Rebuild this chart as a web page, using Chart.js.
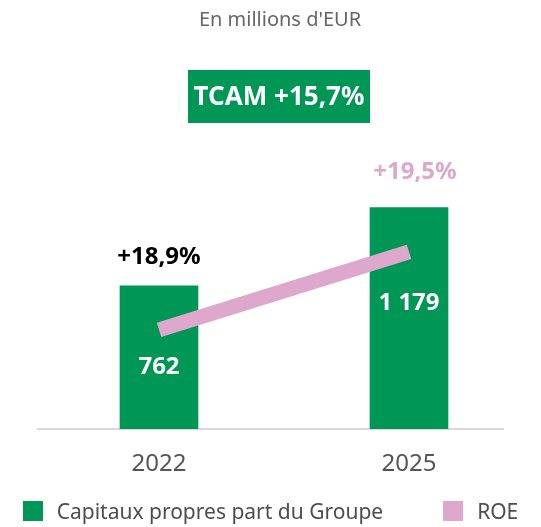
<!DOCTYPE html>
<html>
<head>
<meta charset="utf-8">
<script src="https://cdn.jsdelivr.net/npm/chart.js@4.4.1/dist/chart.umd.min.js"></script>
<style>
  html, body { margin: 0; padding: 0; background: #fff; }
  #wrap { position: relative; width: 541px; height: 527px; }
  .legend { position: absolute; left: 0; top: 491px; width: 541px; height: 40px; display: flex; justify-content: center; align-items: center; font-family: "Noto Sans", sans-serif; font-size: 21px; color: #4d4d4d; }
  .legend span.box { display: inline-block; width: 20px; height: 20px; margin-right: 14px; }
  .legend .item { display: flex; align-items: center; }
  .legend .item + .item { margin-left: 60px; }
</style>
</head>
<body>
<div id="wrap">
  <canvas id="chart"></canvas>
  <div class="legend" id="legend"></div>
</div>
<script>
const years = [2022, 2025];
const capitaux = [762, 1179];
const roe = [18.9, 19.5];
const subtitle = "En millions d'EUR";
const cagr = "TCAM +15,7%";

const green = "#009655";
const pink = "#DDA8CB";
const font = "'Noto Sans', sans-serif";

function fmtNum(v) {
  return String(v).replace(/\B(?=(\d{3})+(?!\d))/g, " ");
}
function fmtPct(v) {
  return "+" + v.toFixed(1).replace(".", ",") + "%";
}

// labels on bars, ROE values, heading and the TCAM box
const labelsPlugin = {
  id: "labels",
  afterDatasetsDraw(chart) {
    const ctx = chart.ctx;
    const bars = chart.getDatasetMeta(1).data;
    ctx.save();
    ctx.textAlign = "center";
    ctx.textBaseline = "middle";

    // values inside the bars
    ctx.font = "bold 24px " + font;
    ctx.fillStyle = "#fff";
    const inside = [0.57, 0.43];
    bars.forEach((b, i) => {
      ctx.fillText(fmtNum(capitaux[i]), b.x, b.y + (b.base - b.y) * inside[i]);
    });

    // ROE labels above the bars
    const roeColors = ["#000", pink];
    const dx = [0, 6];
    const dy = [29, 35];
    bars.forEach((b, i) => {
      ctx.fillStyle = roeColors[i];
      ctx.fillText(fmtPct(roe[i]), b.x + dx[i], b.y - dy[i]);
    });

    // heading
    ctx.fillStyle = "#666";
    ctx.font = "20px " + font;
    ctx.fillText(subtitle, 280, 20);

    // TCAM box
    ctx.fillStyle = green;
    ctx.fillRect(188, 70, 182, 53);
    ctx.fillStyle = "#fff";
    ctx.font = "bold 26px " + font;
    ctx.fillText(cagr, 279, 98);
    ctx.restore();
  }
};

new Chart(document.getElementById("chart"), {
  type: "bar",
  data: {
    datasets: [
      {
        type: "line",
        label: "ROE",
        data: years.map((y, i) => ({ x: y, y: roe[i] })),
        yAxisID: "y2",
        borderColor: pink,
        backgroundColor: pink,
        borderWidth: 15,
        borderCapStyle: "butt",
        pointRadius: 0,
        tension: 0,
        order: 1,
      },
      {
        label: "Capitaux propres part du Groupe",
        data: years.map((y, i) => ({ x: y, y: capitaux[i] })),
        backgroundColor: green,
        barThickness: 78,
        order: 2,
      },
    ],
  },
  options: {
    responsive: true,
    maintainAspectRatio: false,
    animation: false,
    layout: { padding: { left: 38, right: 38, top: 150, bottom: 28 } },
    plugins: {
      legend: { display: false },
      tooltip: { enabled: false },
    },
    scales: {
      x: {
        type: "linear",
        offset: false,
        min: 2020.548,
        max: 2026.128,
        afterBuildTicks: (scale) => {
          scale.ticks = years.map((v) => ({ value: v }));
        },
        ticks: {
          callback: (v) => String(v),
          color: "#555",
          font: { family: font, size: 24 },
          padding: 20.6,
          maxRotation: 0,
        },
        grid: { display: false, drawTicks: false },
        border: { display: true, color: "#d9d9d9", width: 2 },
      },
      y: { display: false, min: 0, max: 1486 },
      y2: { display: false, min: 18.1385, max: 20.283 },
    },
  },
  plugins: [labelsPlugin],
});

// legend
const legend = document.getElementById("legend");
[["Capitaux propres part du Groupe", green], ["ROE", pink]].forEach(([t, c]) => {
  const item = document.createElement("div");
  item.className = "item";
  item.innerHTML = '<span class="box" style="background:' + c + '"></span>' + t;
  legend.appendChild(item);
});
</script>
</body>
</html>
